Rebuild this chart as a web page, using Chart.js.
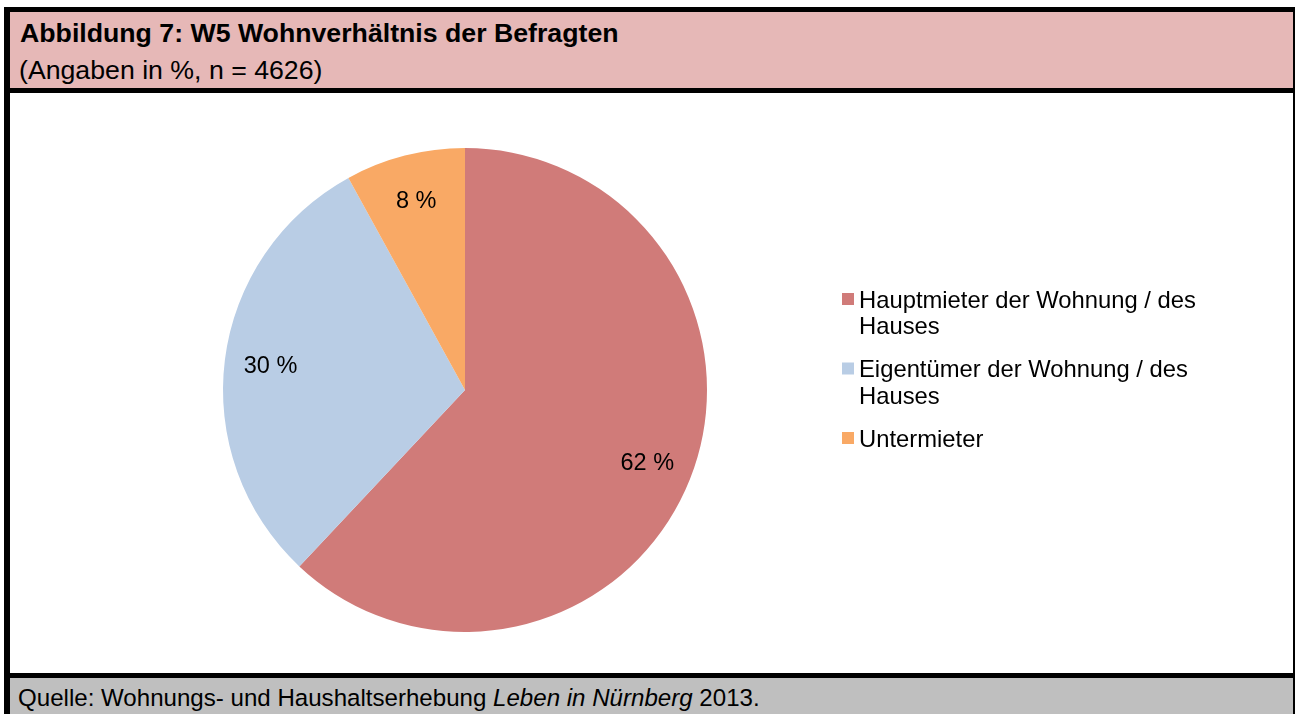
<!DOCTYPE html>
<html lang="de">
<head>
<meta charset="utf-8">
<title>Abbildung 7: W5 Wohnverhältnis der Befragten</title>
<script src="https://cdn.jsdelivr.net/npm/chart.js@4/dist/chart.umd.min.js"></script>
<style>
  html, body { margin: 0; padding: 0; width: 1295px; height: 714px; overflow: hidden; background: #fff; }
  body { position: relative; font-family: "Liberation Sans", Arial, sans-serif; color: #000; }
  .frame { position: absolute; left: 4px; top: 7px; width: 1291px; height: 707px; background: #000; }
  .header { position: absolute; left: 10px; top: 12px; width: 1283px; height: 76px; background: #E6B8B7; }
  .plot { position: absolute; left: 10px; top: 93px; width: 1283px; height: 580px; background: #fff; }
  .footer { position: absolute; left: 10px; top: 678px; width: 1283px; height: 40px; background: #BFBFBF; }
  .t { position: absolute; white-space: nowrap; }
  #title { left: 20px; top: 20px; font-size: 26.7px; line-height: 26.7px; font-weight: bold; }
  #subtitle { left: 19px; top: 57px; font-size: 26.7px; line-height: 26.7px; }
  #source { left: 18px; top: 686px; font-size: 24.1px; line-height: 24.1px; }
  canvas { position: absolute; left: 10px; top: 93px; }
</style>
</head>
<body>
<div class="frame"></div>
<div class="header"></div>
<div class="plot"></div>
<div class="footer"></div>
<div class="t" id="title">Abbildung 7: W5 Wohnverhältnis der Befragten</div>
<div class="t" id="subtitle">(Angaben in %, n = 4626)</div>
<div class="t" id="source">Quelle: Wohnungs- und Haushaltserhebung <i>Leben in Nürnberg</i> 2013.</div>
<canvas id="c" width="1283" height="580"></canvas>
<script>
// ---- data ----
const categories = ["Hauptmieter der Wohnung / des Hauses", "Eigentümer der Wohnung / des Hauses", "Untermieter"];
const values = [62, 30, 8];
const colors = ["#D07B79", "#B9CDE5", "#F9A965"];

const FONT = '"Liberation Sans", Arial, sans-serif';

const sliceLabels = {
  id: 'sliceLabels',
  afterDatasetsDraw(chart) {
    const ctx = chart.ctx;
    const meta = chart.getDatasetMeta(0);
    ctx.save();
    ctx.font = '23.5px ' + FONT;
    ctx.fillStyle = '#000';
    ctx.textAlign = 'center';
    ctx.textBaseline = 'middle';
    meta.data.forEach((arc, i) => {
      const p = arc.getProps(['x', 'y', 'startAngle', 'endAngle', 'outerRadius'], true);
      const mid = (p.startAngle + p.endAngle) / 2;
      const r = p.outerRadius * 0.81;
      ctx.fillText(values[i] + ' %', p.x + Math.cos(mid) * r, p.y + Math.sin(mid) * r + 1);
    });
    ctx.restore();
  }
};

const wrapLegend = {
  id: 'wrapLegend',
  afterDraw(chart) {
    const ctx = chart.ctx;
    const x0 = 832, textX = 849, maxW = 360;
    const lineH = 26.5, gap = 16.5;
    let y = 214.5;
    ctx.save();
    ctx.font = '23.8px ' + FONT;
    ctx.textAlign = 'left';
    ctx.textBaseline = 'alphabetic';
    chart.data.labels.forEach((label, i) => {
      const words = label.split(' ');
      const lines = [];
      let cur = '';
      words.forEach(w => {
        const test = cur ? cur + ' ' + w : w;
        if (ctx.measureText(test).width > maxW && cur) { lines.push(cur); cur = w; }
        else cur = test;
      });
      if (cur) lines.push(cur);
      ctx.fillStyle = chart.data.datasets[0].backgroundColor[i];
      ctx.fillRect(x0, y - 14.5, 12, 12);
      ctx.fillStyle = '#000';
      lines.forEach((ln, k) => ctx.fillText(ln, textX, y + k * lineH));
      y += lines.length * lineH + gap;
    });
    ctx.restore();
  }
};

new Chart(document.getElementById('c'), {
  type: 'pie',
  data: {
    labels: categories,
    datasets: [{
      data: values,
      backgroundColor: colors,
      borderWidth: 0,
      hoverOffset: 0
    }]
  },
  options: {
    responsive: false,
    animation: false,
    devicePixelRatio: 1,
    layout: { padding: { left: 213, top: 55, right: 586, bottom: 41 } },
    plugins: { legend: { display: false }, tooltip: { enabled: false } }
  },
  plugins: [sliceLabels, wrapLegend]
});
</script>
</body>
</html>
